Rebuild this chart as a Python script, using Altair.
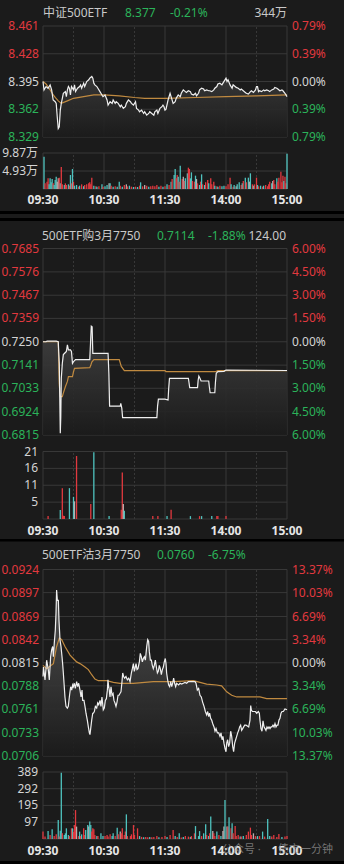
import altair as alt
import pandas as pd

# ---------------- style ----------------
BG = "#1b1b1b"
GRID = "#383838"
RED = "#e2393f"
GREEN = "#2bb35a"
LABEL = "#d4d4d4"
TEAL = "#4fc3bf"
GREYBAR = "#b9aeae"
AVG = "#c08a40"
LINE = "#efefef"
FONT = "'Noto Sans', 'Noto Sans CJK SC', sans-serif"
BAR_COLORS = {"r": RED, "t": TEAL, "g": GREYBAR}

# ---------------- shared axis data ----------------
time_ticks = [0, 60, 120, 180, 240]
time_labels = ["09:30", "10:30", "11:30", "14:00", "15:00"]
grid_solid = [0, 60, 120, 180, 240]
grid_dash = [30, 90, 210]

# ---------------- panel 1 : 中证500ETF ----------------
p1_name, p1_last, p1_chg, p1_vol = "中证500ETF", "8.377", "-0.21%", "344万"
p1_ticks = [8.461, 8.428, 8.395, 8.362, 8.329]
p1_pct = ["0.79%", "0.39%", "0.00%", "0.39%", "0.79%"]
p1_vticks = [9.87, 4.93]
p1_vlabels = ["9.87万", "4.93万"]
p1_t = [0, 1, 3, 5, 7, 8.5, 10, 12, 13, 14,
        15, 16, 17, 18, 20, 22, 23, 24, 25, 26,
        27, 28, 30, 31, 32, 34, 36, 37, 38, 40,
        41, 43, 45, 46, 48, 49, 50, 51, 53, 54,
        56, 58, 59, 61, 63, 64, 66, 68, 69, 71,
        72, 74, 76, 77, 79, 81, 82, 84, 86, 87,
        89, 91, 92, 94, 95, 97, 99, 100, 102, 104,
        105, 107, 109, 110, 112, 113, 115, 117, 118, 119,
        120, 121, 123, 125, 126, 128, 130, 131, 133, 135,
        136, 138, 140, 141, 143, 145, 146, 148, 150, 151,
        153, 154, 156, 158, 159, 161, 163, 164, 166, 168,
        169, 171, 172, 174, 176, 177, 179, 180, 181, 182,
        184, 186, 187, 189, 190, 192, 194, 195, 197, 199,
        200, 202, 204, 205, 207, 209, 210, 211, 212, 213,
        215, 217, 218, 220, 222, 223, 225, 227, 228, 230,
        231, 233, 235, 236, 238, 240]
p1_v = [8.395, 8.385, 8.389, 8.387, 8.391, 8.385, 8.373, 8.371, 8.369, 8.353,
        8.339, 8.341, 8.361, 8.369, 8.381, 8.383, 8.377, 8.385, 8.389, 8.387,
        8.379, 8.389, 8.385, 8.391, 8.383, 8.387, 8.389, 8.391, 8.387, 8.393,
        8.389, 8.395, 8.397, 8.399, 8.401, 8.399, 8.393, 8.391, 8.389, 8.387,
        8.383, 8.379, 8.377, 8.379, 8.373, 8.367, 8.371, 8.369, 8.373, 8.369,
        8.371, 8.369, 8.365, 8.367, 8.363, 8.365, 8.369, 8.373, 8.371, 8.369,
        8.367, 8.371, 8.363, 8.361, 8.359, 8.361, 8.357, 8.359, 8.355, 8.357,
        8.359, 8.357, 8.355, 8.359, 8.361, 8.357, 8.363, 8.365, 8.367, 8.365,
        8.361, 8.362, 8.373, 8.381, 8.377, 8.369, 8.371, 8.375, 8.379, 8.377,
        8.381, 8.385, 8.383, 8.382, 8.384, 8.383, 8.380, 8.379, 8.381, 8.378,
        8.381, 8.385, 8.387, 8.386, 8.384, 8.385, 8.384, 8.384, 8.383, 8.385,
        8.387, 8.389, 8.392, 8.393, 8.391, 8.393, 8.397, 8.399, 8.395, 8.397,
        8.391, 8.387, 8.391, 8.389, 8.388, 8.387, 8.385, 8.386, 8.384, 8.382,
        8.381, 8.380, 8.383, 8.384, 8.382, 8.385, 8.389, 8.389, 8.383, 8.384,
        8.383, 8.385, 8.384, 8.385, 8.384, 8.383, 8.385, 8.386, 8.388, 8.387,
        8.386, 8.384, 8.385, 8.384, 8.381, 8.377]
p1_avg_t = [0, 3, 6, 9, 12, 15, 18, 24, 30, 40, 50, 60, 75, 90, 100, 120, 150, 180, 210, 240]
p1_avg_v = [8.395, 8.392, 8.387, 8.381, 8.376, 8.372, 8.369, 8.372, 8.375, 8.377,
            8.379, 8.379, 8.378, 8.376, 8.375, 8.375, 8.376, 8.377, 8.378, 8.379]
p1_bar_t = [1, 2, 4, 5, 6, 7, 8, 9, 10, 11,
            12, 13, 14, 15, 16, 17, 18, 19, 21, 22,
            23, 25, 26, 27, 28, 29, 30, 31, 33, 35,
            36, 38, 40, 41, 43, 45, 46, 47, 48, 50,
            52, 53, 55, 58, 59, 61, 63, 65, 66, 67,
            69, 71, 73, 75, 76, 78, 80, 82, 83, 85,
            87, 89, 91, 93, 95, 96, 98, 100, 102, 104,
            106, 108, 110, 112, 114, 116, 118, 120, 122, 124,
            126, 127, 129, 130, 131, 132, 133, 134, 135, 137,
            138, 139, 140, 142, 143, 144, 145, 146, 147, 149,
            150, 151, 152, 154, 155, 156, 157, 159, 160, 162,
            163, 165, 166, 168, 169, 171, 172, 174, 176, 178,
            180, 182, 184, 185, 187, 188, 190, 191, 193, 195,
            196, 197, 199, 200, 202, 203, 204, 206, 207, 208,
            210, 211, 212, 214, 216, 217, 219, 221, 222, 223,
            225, 226, 227, 228, 230, 231, 232, 234, 235, 236,
            237, 238, 239, 240]
p1_bar_v = [8.87, 1.55, 2.01, 2.92, 1.28, 2.92, 1.83, 2.74, 1.55, 1.10,
            2.47, 3.38, 2.01, 2.92, 3.11, 1.55, 6.03, 1.28, 1.10, 1.55,
            1.10, 1.28, 0.91, 3.84, 1.55, 5.48, 2.01, 0.91, 1.10, 0.64,
            0.91, 1.28, 0.73, 1.10, 1.28, 1.55, 1.83, 1.28, 3.11, 0.91,
            0.73, 0.64, 0.73, 1.28, 0.64, 0.73, 1.10, 1.55, 1.55, 0.91,
            0.64, 0.73, 0.64, 2.01, 0.91, 0.64, 1.10, 1.28, 0.73, 0.91,
            0.64, 0.55, 0.64, 0.55, 0.91, 1.83, 0.73, 1.10, 0.91, 0.64,
            0.73, 0.91, 0.73, 1.10, 0.64, 0.91, 0.64, 0.73, 1.28, 1.10,
            2.01, 2.74, 3.84, 5.48, 2.92, 3.84, 3.38, 2.01, 6.40, 2.74,
            3.38, 2.19, 2.92, 4.30, 5.85, 5.48, 2.92, 4.57, 2.19, 2.01,
            3.66, 2.74, 1.55, 1.10, 2.01, 4.02, 1.28, 1.10, 1.83, 2.47,
            1.55, 2.92, 1.28, 2.01, 0.91, 0.73, 0.64, 0.91, 0.73, 0.91,
            0.73, 1.28, 3.11, 1.28, 0.64, 1.10, 0.73, 1.28, 1.83, 1.10,
            1.55, 2.19, 3.11, 1.83, 3.11, 2.01, 4.30, 1.28, 0.91, 1.28,
            3.11, 1.10, 0.73, 0.91, 0.64, 0.91, 1.10, 0.73, 1.28, 2.01,
            1.55, 2.19, 2.47, 1.28, 2.92, 2.01, 3.11, 4.75, 1.83, 3.66,
            2.19, 3.38, 1.55, 9.69]
p1_bar_c = ["t", "r", "r", "r", "t", "t", "t", "t", "r", "t",
            "t", "t", "g", "g", "r", "t", "r", "r", "t", "r",
            "r", "t", "r", "t", "r", "t", "r", "t", "t", "r",
            "t", "r", "t", "r", "r", "r", "r", "r", "r", "t",
            "r", "t", "r", "t", "r", "t", "t", "g", "t", "r",
            "t", "r", "t", "t", "r", "t", "r", "g", "r", "t",
            "r", "t", "r", "t", "r", "t", "r", "g", "r", "t",
            "r", "r", "r", "r", "t", "r", "t", "r", "t", "r",
            "t", "r", "t", "t", "r", "r", "t", "r", "t", "r",
            "g", "r", "t", "t", "r", "r", "t", "t", "r", "r",
            "t", "g", "r", "t", "r", "t", "r", "t", "r", "r",
            "t", "r", "r", "r", "t", "r", "t", "r", "t", "t",
            "r", "r", "r", "t", "r", "t", "g", "t", "t", "r",
            "t", "r", "t", "r", "t", "g", "t", "r", "t", "r",
            "r", "t", "r", "t", "r", "t", "r", "r", "r", "r",
            "t", "g", "r", "r", "t", "r", "r", "r", "r", "r",
            "t", "r", "r", "t"]

# ---------------- panel 2 : 500ETF购3月7750 ----------------
p2_name, p2_last, p2_chg, p2_vol = "500ETF购3月7750", "0.7114", "-1.88%", "124.00"
p2_ticks = [0.7685, 0.7576, 0.7467, 0.7359, 0.7250, 0.7141, 0.7033, 0.6924, 0.6815]
p2_pct = ["6.00%", "4.50%", "3.00%", "1.50%", "0.00%", "1.50%", "3.00%", "4.50%", "6.00%"]
p2_vticks = [21, 15.75, 10.5, 5.25]
p2_vlabels = ["21", "16", "11", "5"]
p2_t = [0, 3, 4, 13, 15, 16, 17, 17.5, 18, 19,
        20, 22, 23, 24, 25, 27, 28, 29, 30, 31,
        32, 46, 46.8, 47.5, 48.3, 49, 64, 64.8, 65.5, 76,
        76.5, 77.5, 78.3, 112, 112.7, 113.5, 120, 123, 123.6, 124.4,
        143, 143.6, 144.3, 152, 152.6, 153.3, 154.4, 155.5, 163, 163.6,
        164.4, 169, 169.6, 170.4, 172, 178, 180, 240]
p2_v = [0.7250, 0.7250, 0.7253, 0.7253, 0.7250, 0.7150, 0.6823, 0.6900, 0.7080, 0.7149,
        0.7190, 0.7200, 0.7205, 0.7235, 0.7212, 0.7212, 0.7205, 0.7149, 0.7157, 0.7162,
        0.7167, 0.7167, 0.7250, 0.7323, 0.7320, 0.7196, 0.7196, 0.7100, 0.6950, 0.6950,
        0.6962, 0.6940, 0.6896, 0.6896, 0.6950, 0.6982, 0.6982, 0.6978, 0.7030, 0.7079,
        0.7079, 0.7060, 0.7036, 0.7036, 0.7070, 0.7090, 0.7080, 0.7067, 0.7067, 0.7040,
        0.7012, 0.7012, 0.7060, 0.7103, 0.7111, 0.7112, 0.7118, 0.7116]
p2_avg_t = [0, 15, 16, 17, 19, 20, 22, 24, 25, 29, 30, 31, 46, 47, 48, 50, 75, 77, 80, 120, 121, 170, 172, 240]
p2_avg_v = [0.7250, 0.7250, 0.7050, 0.6994, 0.6994, 0.7010, 0.7040, 0.7065, 0.7087, 0.7087,
            0.7110, 0.7126, 0.7129, 0.7140, 0.7155, 0.7167, 0.7167, 0.7135, 0.7115, 0.7115,
            0.7111, 0.7111, 0.7115, 0.7115]
p2_bar_t = [5, 17, 19, 20, 21, 26, 30, 31, 33, 47, 50, 65, 77, 78, 79, 80,
            108, 113, 122, 126, 145, 154, 156, 166, 171, 172, 180]
p2_bar_v = [0.9, 2.8, 9.6, 1.0, 0.9, 9.6, 6.9, 5.5, 19.6, 4.7, 20.8, 0.9, 2.9, 14.5, 4.7, 2.6,
            0.9, 0.9, 0.9, 2.9, 0.9, 0.9, 0.9, 0.9, 0.9, 0.9, 0.9]
p2_bar_c = ["r", "t", "r", "r", "r", "t", "t", "g", "r", "r", "t", "t", "r", "r", "g", "t",
            "r", "r", "t", "r", "t", "r", "t", "t", "r", "r", "r"]

# ---------------- panel 3 : 500ETF沽3月7750 ----------------
p3_name, p3_last, p3_chg = "500ETF沽3月7750", "0.0760", "-6.75%"
p3_ticks = [0.0924, 0.0897, 0.0869, 0.0842, 0.0815, 0.0788, 0.0761, 0.0733, 0.0706]
p3_pct = ["13.37%", "10.03%", "6.69%", "3.34%", "0.00%", "3.34%", "6.69%", "10.03%", "13.37%"]
p3_vticks = [389, 292, 195, 97]
p3_vlabels = ["389", "292", "195", "97"]
p3_t = [0, 0.5, 2, 3.6, 5.2, 6.2, 7.5, 8.5, 9.5, 10.2,
        11.1, 12.1, 12.8, 13.4, 14.1, 15.1, 15.7, 16.7, 17.7, 18.7,
        19.3, 20, 20.7, 21.6, 22.6, 23.9, 24.9, 25.9, 27.2, 28.2,
        29.2, 29.8, 30.8, 31.8, 33.1, 34.1, 35.1, 36.4, 37.4, 38.4,
        39, 40.3, 41.3, 42.3, 43.6, 44.6, 45.6, 46.2, 46.9, 47.9,
        48.9, 49.5, 50.5, 51.5, 52.8, 53.8, 54.8, 56.1, 57, 58,
        59.3, 60.3, 61.3, 62.3, 63.3, 63.9, 64.6, 65.2, 65.9, 66.9,
        67.9, 68.9, 69.8, 70.8, 71.8, 72.8, 73.8, 74.8, 75.7, 76.7,
        77.7, 78.4, 79.3, 80.3, 81.6, 83, 84.3, 85.6, 86.9, 87.9,
        88.9, 89.8, 90.8, 91.5, 92.5, 93.4, 94.8, 95.7, 96.7, 97.7,
        98.7, 99.7, 100.7, 102, 103, 103.9, 104.6, 105.6, 106.6, 107.5,
        108.5, 109.5, 110.5, 111.5, 112.5, 113.4, 114.4, 115.4, 116.4, 117.4,
        118.4, 119.3, 120.3, 121, 121.6, 122.6, 123.6, 124.6, 125.6, 126.6,
        127.5, 128.5, 129.5, 130.5, 131.5, 132.5, 133.4, 134.8, 136.4, 138,
        139.7, 141.3, 143, 144.6, 147.9, 149.5, 150.5, 151.8, 153.1, 154.4,
        155.7, 157, 158.4, 159.7, 161, 162, 163, 163.9, 164.9, 165.9,
        166.9, 168.2, 169.2, 170.2, 171.5, 172.8, 174.1, 175.1, 176.1, 177,
        178, 179, 180, 180.7, 181.6, 182.6, 183.6, 184.6, 185.6, 186.6,
        187.5, 188.5, 189.5, 190.5, 191.5, 192.5, 193.4, 194.4, 195.4, 196.4,
        197.4, 198.4, 199.7, 201, 202.3, 203.6, 204.3, 204.9, 205.9, 206.9,
        208.9, 210.2, 211.8, 212.8, 213.4, 214.4, 215.4, 216.4, 217.4, 218.4,
        219.3, 220.3, 221.3, 222.3, 223.3, 224.3, 225.2, 226.2, 227.2, 228.2,
        229.2, 230.2, 231.1, 232.1, 233.1, 234.1, 235.1, 236.4, 238, 240]
p3_v = [0.0799, 0.0810, 0.0795, 0.0818, 0.0807, 0.0795, 0.0822, 0.0830, 0.0834, 0.0822,
        0.0838, 0.0853, 0.0873, 0.0900, 0.0888, 0.0888, 0.0865, 0.0842, 0.0834, 0.0822,
        0.0814, 0.0803, 0.0791, 0.0775, 0.0764, 0.0762, 0.0764, 0.0775, 0.0787, 0.0783,
        0.0789, 0.0787, 0.0791, 0.0785, 0.0793, 0.0787, 0.0791, 0.0783, 0.0775, 0.0783,
        0.0771, 0.0771, 0.0764, 0.0756, 0.0748, 0.0740, 0.0733, 0.0731, 0.0738, 0.0748,
        0.0756, 0.0756, 0.0758, 0.0764, 0.0762, 0.0768, 0.0766, 0.0771, 0.0764, 0.0775,
        0.0760, 0.0762, 0.0771, 0.0773, 0.0783, 0.0795, 0.0787, 0.0783, 0.0775, 0.0787,
        0.0777, 0.0779, 0.0771, 0.0768, 0.0764, 0.0769, 0.0777, 0.0777, 0.0779, 0.0781,
        0.0793, 0.0803, 0.0799, 0.0797, 0.0799, 0.0795, 0.0797, 0.0793, 0.0803, 0.0808,
        0.0814, 0.0805, 0.0810, 0.0814, 0.0807, 0.0808, 0.0816, 0.0826, 0.0822, 0.0816,
        0.0820, 0.0822, 0.0818, 0.0834, 0.0842, 0.0840, 0.0828, 0.0818, 0.0818, 0.0812,
        0.0808, 0.0812, 0.0818, 0.0810, 0.0803, 0.0805, 0.0812, 0.0808, 0.0801, 0.0807,
        0.0810, 0.0816, 0.0820, 0.0814, 0.0803, 0.0795, 0.0789, 0.0787, 0.0793, 0.0787,
        0.0791, 0.0797, 0.0791, 0.0787, 0.0791, 0.0790, 0.0789, 0.0791, 0.0790, 0.0791,
        0.0792, 0.0791, 0.0793, 0.0793, 0.0793, 0.0793, 0.0791, 0.0783, 0.0785, 0.0777,
        0.0775, 0.0769, 0.0764, 0.0758, 0.0754, 0.0758, 0.0752, 0.0756, 0.0750, 0.0748,
        0.0744, 0.0740, 0.0735, 0.0738, 0.0733, 0.0733, 0.0729, 0.0733, 0.0725, 0.0729,
        0.0721, 0.0715, 0.0711, 0.0721, 0.0725, 0.0717, 0.0721, 0.0735, 0.0729, 0.0717,
        0.0711, 0.0721, 0.0725, 0.0729, 0.0733, 0.0736, 0.0740, 0.0742, 0.0736, 0.0738,
        0.0740, 0.0742, 0.0742, 0.0741, 0.0740, 0.0748, 0.0765, 0.0760, 0.0758, 0.0758,
        0.0758, 0.0756, 0.0758, 0.0756, 0.0748, 0.0738, 0.0735, 0.0747, 0.0740, 0.0738,
        0.0736, 0.0740, 0.0738, 0.0740, 0.0738, 0.0740, 0.0740, 0.0742, 0.0740, 0.0744,
        0.0740, 0.0742, 0.0742, 0.0748, 0.0750, 0.0756, 0.0758, 0.0758, 0.0761, 0.0760]
p3_avg_t = [0, 3.6, 10.2, 13.4, 16.1, 18.4, 21.6, 26.6, 29.8, 33.1,
            36.4, 41.3, 44.6, 47.9, 51.1, 54.4, 62.6, 69.2, 75.7, 88.9,
            108.5, 128.2, 147.9, 154.4, 161, 170.8, 175.7, 180.7, 185.6, 190.5,
            206.9, 213.4, 220, 240]
p3_avg_v = [0.0812, 0.0808, 0.0814, 0.0834, 0.0844, 0.0842, 0.0834, 0.0824, 0.0820, 0.0816,
            0.0814, 0.0810, 0.0807, 0.0801, 0.0796, 0.0794, 0.0794, 0.0792, 0.0791, 0.0791,
            0.0793, 0.0793, 0.0794, 0.0792, 0.0790, 0.0789, 0.0788, 0.0781, 0.0777, 0.0775,
            0.0775, 0.0775, 0.0773, 0.0773]
p3_bar_t = [0, 2, 5, 7, 9, 11, 13, 15, 16, 17,
            18, 19, 21, 22, 23, 25, 26, 28, 29, 30,
            31, 32, 33, 35, 36, 37, 38, 40, 41, 42,
            44, 45, 46, 47, 48, 49, 50, 51, 53, 54,
            57, 59, 61, 63, 64, 66, 68, 69, 71, 73,
            74, 76, 77, 78, 80, 81, 82, 83, 86, 87,
            89, 90, 93, 95, 97, 99, 101, 103, 105, 107,
            109, 112, 114, 117, 120, 122, 125, 128, 130, 132,
            134, 136, 138, 140, 143, 145, 146, 149, 150, 153,
            154, 156, 158, 160, 161, 163, 164, 165, 167, 168,
            169, 171, 173, 175, 177, 178, 179, 181, 182, 183,
            185, 186, 187, 189, 190, 192, 194, 195, 197, 200,
            202, 204, 205, 207, 209, 211, 213, 216, 218, 221,
            223, 225, 227, 230, 232, 235, 238, 240]
p3_bar_v = [43, 14, 46, 23, 56, 17, 27, 110, 14, 48,
            385, 33, 23, 33, 62, 23, 17, 62, 62, 43,
            81, 168, 72, 17, 43, 17, 27, 62, 23, 52,
            81, 72, 101, 81, 43, 62, 56, 23, 17, 17,
            33, 17, 17, 23, 14, 27, 17, 33, 17, 66,
            27, 43, 33, 62, 23, 43, 143, 17, 17, 27,
            81, 23, 62, 17, 12, 10, 12, 10, 12, 10,
            12, 17, 10, 12, 17, 12, 23, 52, 17, 12,
            33, 8, 12, 17, 14, 12, 17, 33, 75, 17,
            46, 17, 33, 85, 23, 17, 33, 130, 46, 33,
            17, 43, 23, 17, 46, 72, 226, 72, 72, 126,
            62, 91, 33, 75, 17, 23, 14, 14, 17, 23,
            43, 66, 23, 33, 17, 17, 17, 43, 14, 116,
            17, 14, 23, 12, 29, 12, 14, 17]
p3_bar_c = ["r", "r", "t", "r", "t", "r", "r", "t", "r", "t",
            "t", "r", "t", "t", "t", "t", "r", "r", "t", "r",
            "r", "r", "g", "r", "t", "r", "t", "r", "r", "t",
            "t", "g", "t", "t", "r", "r", "r", "r", "t", "r",
            "t", "t", "r", "r", "r", "r", "t", "t", "r", "t",
            "r", "g", "r", "r", "r", "r", "t", "r", "r", "r",
            "r", "r", "r", "t", "r", "t", "r", "r", "t", "r",
            "r", "r", "t", "r", "r", "t", "r", "r", "t", "r",
            "t", "r", "t", "r", "r", "t", "r", "r", "t", "t",
            "t", "r", "t", "t", "r", "t", "r", "t", "g", "r",
            "r", "t", "r", "t", "g", "g", "t", "g", "r", "t",
            "r", "t", "r", "r", "r", "r", "t", "r", "t", "r",
            "r", "r", "r", "g", "r", "t", "r", "t", "r", "t",
            "t", "r", "r", "r", "r", "t", "r", "r"]

# ---------------- helpers ----------------
XS = alt.Scale(domain=[0, 240], range=[43, 287], nice=False, zero=False)


def ys(dom, rng):
    return alt.Scale(domain=dom, range=rng, nice=False, zero=False)


def xenc():
    return alt.X("t:Q", scale=XS, axis=None)


def hgrid(vals, dom, rng):
    df = pd.DataFrame({"v": vals, "a": 0, "b": 240})
    return alt.Chart(df).mark_rule(color=GRID, strokeWidth=1).encode(
        x=alt.X("a:Q", scale=XS, axis=None), x2="b",
        y=alt.Y("v:Q", scale=ys(dom, rng), axis=None))


def vgrid(ts, dom, rng, dash):
    df = pd.DataFrame({"t": ts, "lo": dom[0], "hi": dom[1]})
    if dash:
        m = alt.Chart(df).mark_rule(color=GRID, strokeWidth=1, strokeDash=[2, 2])
    else:
        m = alt.Chart(df).mark_rule(color=GRID, strokeWidth=1)
    return m.encode(x=xenc(), y=alt.Y("lo:Q", scale=ys(dom, rng), axis=None), y2="hi")


def text_at(txt, x, y, color, align="left", size=12, weight="normal", opacity=1.0):
    df = pd.DataFrame({"s": [txt]})
    return alt.Chart(df).mark_text(align=align, baseline="middle", font=FONT, fontSize=size,
                                   fontWeight=weight, color=color, opacity=opacity).encode(
        x=alt.value(x), y=alt.value(y), text="s:N")


def band(y0, y1):
    df = pd.DataFrame({"k": [0]})
    return alt.Chart(df).mark_rect(color="#000000").encode(
        x=alt.value(0), x2=alt.value(344), y=alt.value(y0), y2=alt.value(y1))


def grad(top):
    return alt.Gradient(gradient="linear",
                        stops=[alt.GradientStop(color=top, offset=0),
                               alt.GradientStop(color=BG, offset=1)],
                        x1=1, x2=1, y1=0, y2=1)


def cfg_dec(v):
    return 3 if v > 1 else 4


def panel(ticks, pct, pdom, prng, vticks, vlabels, vdom, vrng,
          pt, pv, at, av, bt, bv, bc, xlab_y, fill_top):
    L = []
    ps = ys(pdom, prng)
    vs = ys(vdom, vrng)
    # grids
    L.append(hgrid(ticks, pdom, prng))
    L.append(vgrid(grid_solid, pdom, prng, False))
    L.append(vgrid(grid_dash, pdom, prng, True))
    L.append(hgrid(vticks + [0], vdom, vrng))
    L.append(vgrid(grid_solid, vdom, vrng, False))
    L.append(vgrid(grid_dash, vdom, vrng, True))
    # price area + lines
    dfp = pd.DataFrame({"t": pt, "v": pv})
    dfp["base"] = pdom[0]
    L.append(alt.Chart(dfp).mark_area(color=grad(fill_top), opacity=0.9).encode(
        x=xenc(), y=alt.Y("v:Q", scale=ps, axis=None), y2="base"))
    dfa = pd.DataFrame({"t": at, "v": av})
    L.append(alt.Chart(dfa).mark_line(color=AVG, strokeWidth=1.2).encode(
        x=xenc(), y=alt.Y("v:Q", scale=ps, axis=None)))
    L.append(alt.Chart(dfp).mark_line(color=LINE, strokeWidth=1.2).encode(
        x=xenc(), y=alt.Y("v:Q", scale=ps, axis=None)))
    # volume bars
    dfb = pd.DataFrame({"t": bt, "v": bv, "col": [BAR_COLORS[c] for c in bc]})
    dfb["zero"] = 0
    L.append(alt.Chart(dfb).mark_rule(strokeWidth=1.3).encode(
        x=xenc(), y=alt.Y("v:Q", scale=vs, axis=None), y2="zero",
        color=alt.Color("col:N", scale=None)))
    # price labels
    mid = ticks[len(ticks) // 2]
    cols = [RED if v > mid else (GREEN if v < mid else LABEL) for v in ticks]
    dfl = pd.DataFrame({"v": ticks, "lab": [f"{v:.{cfg_dec(v)}f}" for v in ticks],
                        "pct": pct, "col": cols})
    L.append(alt.Chart(dfl).mark_text(align="right", baseline="middle", font=FONT, fontSize=12).encode(
        x=alt.value(39), y=alt.Y("v:Q", scale=ps, axis=None), text="lab:N",
        color=alt.Color("col:N", scale=None)))
    L.append(alt.Chart(dfl).mark_text(align="left", baseline="middle", font=FONT, fontSize=12).encode(
        x=alt.value(292), y=alt.Y("v:Q", scale=ps, axis=None), text="pct:N",
        color=alt.Color("col:N", scale=None)))
    # volume labels
    dfv = pd.DataFrame({"v": vticks, "lab": vlabels})
    L.append(alt.Chart(dfv).mark_text(align="right", baseline="middle", font=FONT, fontSize=12,
                                      color=LABEL).encode(
        x=alt.value(38), y=alt.Y("v:Q", scale=vs, axis=None), text="lab:N"))
    # time labels
    dft = pd.DataFrame({"t": time_ticks, "lab": time_labels})
    L.append(alt.Chart(dft).mark_text(align="center", baseline="middle", font=FONT, fontSize=12,
                                      fontWeight="bold", color="#e6e6e6").encode(
        x=xenc(), y=alt.value(xlab_y), text="lab:N"))
    return L


layers = []
layers += panel(p1_ticks, p1_pct, [8.329, 8.461], [137, 26], p1_vticks, p1_vlabels, [0, 9.87], [189, 153],
                p1_t, p1_v, p1_avg_t, p1_avg_v, p1_bar_t, p1_bar_v, p1_bar_c, 200, "#3a3a3a")
layers += panel(p2_ticks, p2_pct, [0.6815, 0.7685], [435, 248.5], p2_vticks, p2_vlabels, [0, 21], [519, 451.5],
                p2_t, p2_v, p2_avg_t, p2_avg_v, p2_bar_t, p2_bar_v, p2_bar_c, 531, "#444444")
layers += panel(p3_ticks, p3_pct, [0.0706, 0.0924], [756, 569.5], p3_vticks, p3_vlabels, [0, 389], [839, 772],
                p3_t, p3_v, p3_avg_t, p3_avg_v, p3_bar_t, p3_bar_v, p3_bar_c, 851, "#575757")

# titles
layers += [
    text_at(p1_name, 43, 12.5, "#c9c9c9"),
    text_at(p1_last, 125, 12.5, GREEN),
    text_at(p1_chg, 170, 12.5, GREEN),
    text_at(p1_vol, 287, 12.5, "#c9c9c9", align="right"),
    text_at(p2_name, 42, 235.5, "#c9c9c9"),
    text_at(p2_last, 157, 235.5, GREEN),
    text_at(p2_chg, 208, 235.5, GREEN),
    text_at(p2_vol, 286, 235.5, "#c9c9c9", align="right"),
    text_at(p3_name, 42, 555, "#c9c9c9"),
    text_at(p3_last, 157, 555, GREEN),
    text_at(p3_chg, 208, 555, GREEN),
]
# separators
layers += [band(211, 214), band(218, 221), band(539, 541.5), band(861, 864)]
# watermark (semi-transparent, overlays the time labels as in the reference)
layers += [
    text_at("公众号 ·", 222, 850, "#9a9a9a", size=11, opacity=0.7),
    text_at("债市一分钟", 278, 850, "#9a9a9a", size=11, opacity=0.7),
]

chart = alt.layer(*layers).resolve_scale(y="independent", color="independent").properties(
    width=344, height=864, padding=0, background=BG,
    autosize=alt.AutoSizeParams(type="none"),
).configure_view(strokeWidth=0)

chart.save("out.html", embed_options={"renderer": "svg", "actions": False})
